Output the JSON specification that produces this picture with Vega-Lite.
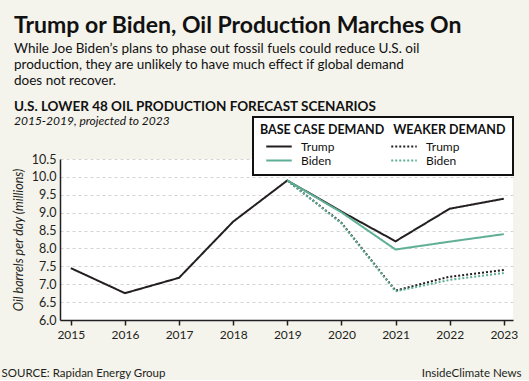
{
  "$schema": "https://vega.github.io/schema/vega-lite/v6.json",
  "background": "#f4f3ec",
  "padding": {"left": 1, "top": 15, "right": 8, "bottom": 1},
  "title": {
    "text": "Trump or Biden, Oil Production Marches On",
    "subtitle": ["While Joe Biden’s plans to phase out fossil fuels could reduce U.S. oil", "production, they are unlikely to have much effect if global demand", "does not recover."],
    "anchor": "start",
    "dx": 13,
    "offset": 12,
    "font": "Lato",
    "fontSize": 23,
    "fontWeight": "bold",
    "color": "#111111",
    "subtitleFont": "Lato",
    "subtitleFontSize": 13.5,
    "subtitleLineHeight": 16,
    "subtitleColor": "#111111",
    "subtitlePadding": 4
  },
  "vconcat": [
    {
      "width": 453,
      "height": 161,
      "title": {
        "text": "U.S. LOWER 48 OIL PRODUCTION FORECAST SCENARIOS",
        "subtitle": "2015-2019, projected to 2023",
        "anchor": "start",
        "dx": 13,
        "offset": 26,
        "font": "Lato",
        "fontSize": 13.5,
        "fontWeight": "bold",
        "color": "#111111",
        "subtitleFont": "Lato",
        "subtitleFontStyle": "italic",
        "subtitleFontSize": 12,
        "subtitleColor": "#111111",
        "subtitlePadding": 3
      },
      "view": {"fill": "white", "stroke": null},
      "data": {
        "values": [
          {"year": 2015, "value": 7.45, "series": "Base Trump"},
          {"year": 2016, "value": 6.75, "series": "Base Trump"},
          {"year": 2017, "value": 7.18, "series": "Base Trump"},
          {"year": 2018, "value": 8.75, "series": "Base Trump"},
          {"year": 2019, "value": 9.9, "series": "Base Trump"},
          {"year": 2020, "value": 9.03, "series": "Base Trump"},
          {"year": 2021, "value": 8.2, "series": "Base Trump"},
          {"year": 2022, "value": 9.11, "series": "Base Trump"},
          {"year": 2023, "value": 9.39, "series": "Base Trump"},
          {"year": 2019, "value": 9.9, "series": "Weak Trump"},
          {"year": 2020, "value": 8.72, "series": "Weak Trump"},
          {"year": 2021, "value": 6.82, "series": "Weak Trump"},
          {"year": 2022, "value": 7.21, "series": "Weak Trump"},
          {"year": 2023, "value": 7.4, "series": "Weak Trump"},
          {"year": 2019, "value": 9.9, "series": "Weak Biden"},
          {"year": 2020, "value": 8.7, "series": "Weak Biden"},
          {"year": 2021, "value": 6.8, "series": "Weak Biden"},
          {"year": 2022, "value": 7.12, "series": "Weak Biden"},
          {"year": 2023, "value": 7.31, "series": "Weak Biden"},
          {"year": 2019, "value": 9.9, "series": "Base Biden"},
          {"year": 2020, "value": 9.01, "series": "Base Biden"},
          {"year": 2021, "value": 7.97, "series": "Base Biden"},
          {"year": 2022, "value": 8.19, "series": "Base Biden"},
          {"year": 2023, "value": 8.4, "series": "Base Biden"}
        ]
      },
      "layer": [
        {
          "mark": {"type": "line", "strokeWidth": 2},
          "encoding": {
            "x": {
              "field": "year",
              "type": "quantitative",
              "scale": {"domain": [2014.8, 2023.17], "nice": false, "zero": false},
              "axis": {
                "values": [2015, 2016, 2017, 2018, 2019, 2020, 2021, 2022, 2023],
                "format": "d",
                "grid": false,
                "domainColor": "#231f20",
                "domainWidth": 1.5,
                "tickColor": "#231f20",
                "tickWidth": 1.5,
                "tickSize": 5,
                "labelFont": "Lato",
                "labelFontSize": 12,
                "labelColor": "#231f20",
                "labelPadding": 4,
                "title": "SOURCE: Rapidan Energy Group",
                "titleFont": "Lato",
                "titleFontSize": 11.5,
                "titleFontWeight": "normal",
                "titleColor": "#231f20",
                "titleAnchor": "start",
                "titleAlign": "left",
                "titleBaseline": "alphabetic",
                "titleX": -59,
                "titleY": 56
              }
            },
            "y": {
              "field": "value",
              "type": "quantitative",
              "scale": {"domain": [6, 10.5], "nice": false, "zero": false},
              "axis": {
                "values": [6, 6.5, 7, 7.5, 8, 8.5, 9, 9.5, 10, 10.5],
                "format": ".1f",
                "ticks": false,
                "grid": true,
                "gridDash": [3, 3],
                "gridColor": "#d4d4d4",
                "gridWidth": 1,
                "domainColor": "#231f20",
                "domainWidth": 1.5,
                "labelFont": "Lato",
                "labelFontSize": 12.5,
                "labelColor": "#231f20",
                "labelPadding": 4,
                "title": "Oil barrels per day (millions)",
                "titleFont": "Lato",
                "titleFontSize": 12.5,
                "titleFontStyle": "italic",
                "titleFontWeight": "normal",
                "titleColor": "#231f20",
                "titlePadding": 6
              }
            },
            "color": {
              "field": "series",
              "type": "nominal",
              "scale": {
                "domain": ["Base Trump", "Base Biden", "Weak Trump", "Weak Biden"],
                "range": ["#231f20", "#5fae96", "#231f20", "#5fae96"]
              },
              "legend": {
                "orient": "none",
                "legendX": 193,
                "legendY": -42,
                "columns": 2,
                "columnPadding": 50,
                "title": "BASE CASE DEMAND\u00a0\u00a0\u00a0WEAKER DEMAND",
                "titleLimit": 400,
                "titleFont": "Lato",
                "titleFontSize": 12.5,
                "titleFontWeight": "bold",
                "titleColor": "#111111",
                "titlePadding": 3,
                "labelFont": "Lato",
                "labelFontSize": 12,
                "labelColor": "#111111",
                "labelOffset": 8,
                "labelExpr": "indexof(datum.label, 'Trump') >= 0 ? 'Trump' : 'Biden'",
                "symbolType": "stroke",
                "symbolSize": 650,
                "symbolStrokeWidth": 2,
                "symbolOffset": 5,
                "clipHeight": 14,
                "rowPadding": 0,
                "padding": 7,
                "strokeColor": "#111111",
                "fillColor": "white",
                "cornerRadius": 0,
                "encode": {"legend": {"update": {"strokeWidth": {"value": 2}}}}
              }
            },
            "strokeDash": {
              "field": "series",
              "type": "nominal",
              "scale": {
                "domain": ["Base Trump", "Base Biden", "Weak Trump", "Weak Biden"],
                "range": [[1, 0], [1, 0], [2, 2], [2, 2]]
              }
            }
          }
        },
        {
          "mark": {"type": "rule", "opacity": 0},
          "encoding": {
            "y": {
              "datum": 6,
              "type": "quantitative",
              "axis": {
                "orient": "right",
                "labels": false,
                "ticks": false,
                "domain": false,
                "grid": false,
                "title": "InsideClimate News",
                "titleFont": "Lato",
                "titleFontSize": 11.5,
                "titleFontWeight": "normal",
                "titleColor": "#231f20",
                "titleAngle": 0,
                "titleAlign": "right",
                "titleBaseline": "alphabetic",
                "titleX": 8,
                "titleY": 217
              }
            }
          }
        }
      ],
      "resolve": {"axis": {"y": "independent"}}
    }
  ]
}
